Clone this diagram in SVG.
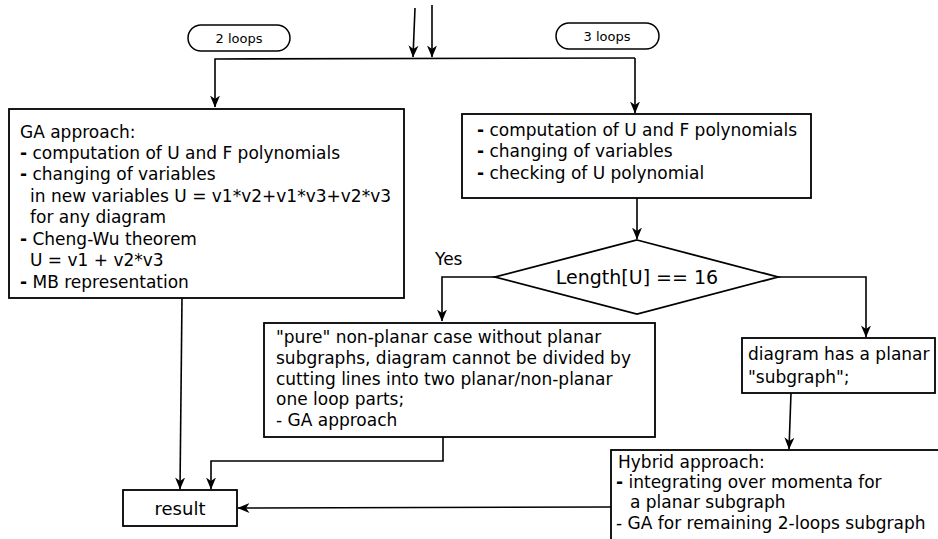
<svg xmlns="http://www.w3.org/2000/svg" width="938" height="539" viewBox="0 0 938 539">
<style>
text{font-family:"DejaVu Sans","Noto Sans",sans-serif;fill:#000}
.t{font-size:17px}
.s{font-size:13px}
.box{fill:#fff;stroke:#000;stroke-width:1.8}
.ln{fill:none;stroke:#000;stroke-width:1.6}
.b{font-weight:bold}
</style>
<defs>
<marker id="ah" viewBox="0 0 12 12" refX="11.5" refY="6" markerWidth="12" markerHeight="12" markerUnits="userSpaceOnUse" orient="auto">
<path d="M0,1 L12,6 L0,11 L3.5,6 z" fill="#000"/>
</marker>
</defs>
<rect width="938" height="539" fill="#fff"/>
<g id="connectors">
<path class="ln" d="M415,8 L413,57" marker-end="url(#ah)"/>
<path class="ln" d="M432,5 L432,57" marker-end="url(#ah)"/>
<path class="ln" d="M635,58 L215,59 L215,107" marker-end="url(#ah)"/>
<path class="ln" d="M635,58 L635,113" marker-end="url(#ah)"/>
<path class="ln" d="M637,198 L637,239" marker-end="url(#ah)"/>
<path class="ln" d="M495,277 L442,277 L442,321" marker-end="url(#ah)"/>
<path class="ln" d="M778,277 L866,277 L866,337" marker-end="url(#ah)"/>
<path class="ln" d="M791,393 L789,449" marker-end="url(#ah)"/>
<path class="ln" d="M182,298 L180,489" marker-end="url(#ah)"/>
<path class="ln" d="M443,437 L443,461 L211,461 L211,489" marker-end="url(#ah)"/>
<path class="ln" d="M611,507 L238,508" marker-end="url(#ah)"/>
</g>
<g id="label-2loops">
<rect class="box" x="188" y="25" width="102" height="26" rx="13" style="stroke-width:1.5"/>
<text class="s" x="239" y="42.5" text-anchor="middle">2 loops</text>
</g>
<g id="label-3loops">
<rect class="box" x="556" y="23" width="103" height="26" rx="13" style="stroke-width:1.5"/>
<text class="s" x="607" y="40.5" text-anchor="middle">3 loops</text>
</g>
<g id="ga-box">
<rect class="box" x="9" y="109" width="395" height="189"/>
<text class="t" x="20">
<tspan x="20" y="138">GA approach:</tspan>
<tspan x="20" y="159"><tspan class="b">-</tspan> computation of U and F polynomials</tspan>
<tspan x="20" y="180"><tspan class="b">-</tspan> changing of variables</tspan>
<tspan x="30" y="202">in new variables U = v1*v2+v1*v3+v2*v3</tspan>
<tspan x="30" y="223">for any diagram</tspan>
<tspan x="20" y="245"><tspan class="b">-</tspan> Cheng-Wu theorem</tspan>
<tspan x="30" y="266">U = v1 + v2*v3</tspan>
<tspan x="20" y="288"><tspan class="b">-</tspan> MB representation</tspan>
</text>
</g>
<g id="three-loop-box">
<rect class="box" x="462" y="114" width="349" height="84"/>
<text class="t">
<tspan x="477" y="136"><tspan class="b">-</tspan> computation of U and F polynomials</tspan>
<tspan x="477" y="157"><tspan class="b">-</tspan> changing of variables</tspan>
<tspan x="477" y="179"><tspan class="b">-</tspan> checking of U polynomial</tspan>
</text>
</g>
<g id="decision">
<polygon class="box" points="637,240 778,277 637,314 495,277"/>
<text x="637" y="284" font-size="19" text-anchor="middle">Length[U] == 16</text>
</g>
<text class="t" x="435" y="265">Yes</text>
<g id="pure-box">
<rect class="box" x="264" y="323" width="391" height="114"/>
<text class="t">
<tspan x="276" y="343">"pure" non-planar case without planar</tspan>
<tspan x="276" y="364">subgraphs, diagram cannot be divided by</tspan>
<tspan x="276" y="385">cutting lines into two planar/non-planar</tspan>
<tspan x="276" y="405">one loop parts;</tspan>
<tspan x="276" y="426">- GA approach</tspan>
</text>
</g>
<g id="planar-box">
<rect class="box" x="742" y="338" width="193" height="55"/>
<text class="t">
<tspan x="748" y="360">diagram has a planar</tspan>
<tspan x="748" y="383">"subgraph";</tspan>
</text>
</g>
<g id="hybrid-box">
<rect class="box" x="611" y="450" width="340" height="100"/>
<text class="t">
<tspan x="618" y="468">Hybrid approach:</tspan>
<tspan x="616" y="488"><tspan class="b">-</tspan> integrating over momenta for</tspan>
<tspan x="630" y="508">a planar subgraph</tspan>
<tspan x="616" y="529">- GA for remaining 2-loops subgraph</tspan>
</text>
</g>
<g id="result-box">
<rect class="box" x="123" y="490" width="114" height="36"/>
<text x="180" y="515" font-size="18" text-anchor="middle">result</text>
</g>
</svg>
